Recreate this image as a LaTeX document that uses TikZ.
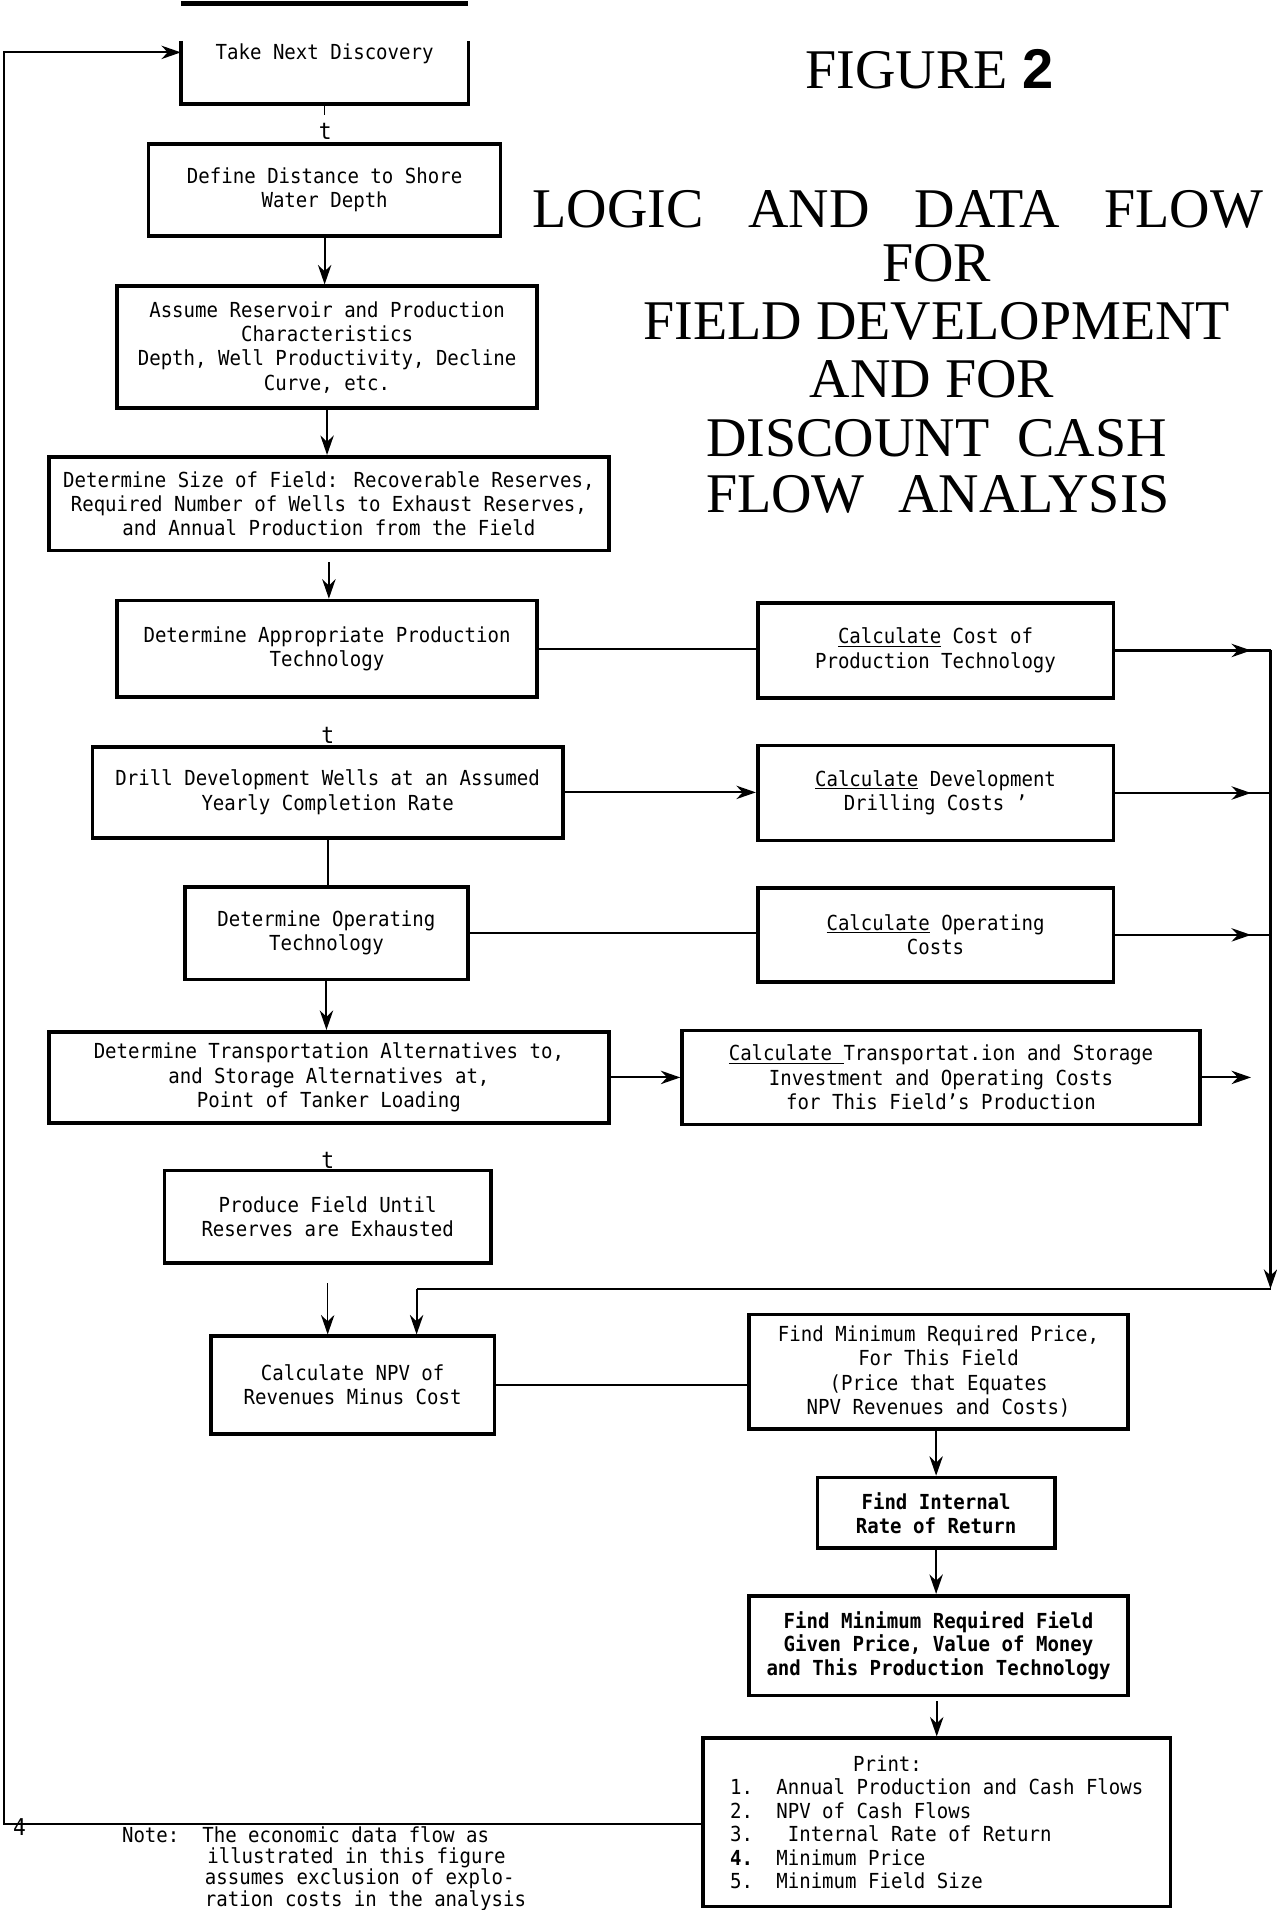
\documentclass[tikz,border=0pt]{standalone}
\usepackage{fontspec}
\newfontfamily\boxfont[FakeStretch=0.92]{DejaVu Sans Mono}
\newfontfamily\tnr{Liberation Serif}
\newfontfamily\hel{Liberation Sans}
\usetikzlibrary{arrows.meta}
\tikzset{
  box/.style={draw, line width=3pt, inner sep=0pt, align=center,
    font=\boxfont\fontsize{17}{20}\selectfont},
  conn/.style={line width=1.7pt},
  arr/.style={-{Stealth[length=16pt,width=11pt]}},
  txt/.style={inner sep=0pt, font=\boxfont\fontsize{17}{20}\selectfont},
  ttl/.style={inner sep=0pt, font=\tnr\fontsize{46}{50}\selectfont},
}
\begin{document}
\begin{tikzpicture}[x=1pt,y=-1pt]
\useasboundingbox (0,0) rectangle (1048,1568);
% ---------- title ----------
\node[ttl] (fig) at (763,57) {FIGURE {\hel\bfseries 2}};
\node[ttl] (tl1) at (737,172) {LOGIC\hspace{0.8em}AND\hspace{0.8em}DATA\hspace{0.8em}FLOW};
\node[ttl] (tl2) at (769,216) {FOR};
\node[ttl] (tl3) at (769,264) {FIELD DEVELOPMENT};
\node[ttl] (tl4) at (765,311) {AND FOR};
\node[ttl] (tl5) at (769,360) {DISCOUNT\hspace{0.5em}CASH};
\node[ttl] (tl6) at (770,406) {FLOW\hspace{0.6em}ANALYSIS};
% ---------- left column ----------
\node[box, draw=none, minimum width=233pt, text height=14pt, text depth=35pt, anchor=base] (b1) at (266.5,49) {Take Next Discovery};
\draw[line width=3pt] (b1.north west) -- (b1.south west) -- (b1.south east) -- (b1.north east);
\draw[line width=4pt] (b1.west |- 0,3) -- (b1.east |- 0,3);
\node[box, minimum width=289pt, minimum height=76pt] (b2) at (266.5,156) {Define Distance to Shore\\Water Depth};
\node[box, minimum width=345pt, minimum height=100pt] (b3) at (268.5,285) {Assume Reservoir and Production\\Characteristics\\Depth, Well Productivity, Decline\\Curve, etc.};
\node[box, minimum width=460pt, minimum height=77pt] (b4) at (270,413.5) {Determine Size of Field: Recoverable Reserves,\\Required Number of Wells to Exhaust Reserves,\\and Annual Production from the Field};
\node[box, minimum width=345pt, minimum height=79pt] (b5) at (268.5,532.5) {Determine Appropriate Production\\Technology};
\node[box, minimum width=386pt, minimum height=75pt] (b6) at (269,650.5) {Drill Development Wells at an Assumed\\Yearly Completion Rate};
\node[box, minimum width=232pt, minimum height=76pt] (b7) at (268,766) {Determine Operating\\Technology};
\node[box, minimum width=460pt, minimum height=75pt] (b8) at (270,884.5) {Determine Transportation Alternatives to,\\and Storage Alternatives at,\\Point of Tanker Loading};
\node[box, minimum width=268pt, minimum height=76pt] (b9) at (269,999) {Produce Field Until\\Reserves are Exhausted};
\node[box, minimum width=233pt, minimum height=80pt] (b10) at (289.5,1137) {Calculate NPV of\\Revenues Minus Cost};
% ---------- right column ----------
\node[box, minimum width=292pt, minimum height=78pt] (ccost) at (768,534) {\underline{Calculate} Cost of\\Production Technology};
\node[box, minimum width=292pt, minimum height=78pt] (cdev) at (768,651) {\underline{Calculate} Development\\Drilling Costs ’};
\node[box, minimum width=292pt, minimum height=77pt] (cop) at (768,767.5) {\underline{Calculate} Operating\\Costs};
\node[box, minimum width=425pt, minimum height=77pt] (ctr) at (772.5,884.5) {\underline{Calculate\ }Transportat.ion and Storage\\Investment and Operating Costs\\for This Field’s Production};
\node[box, minimum width=311pt, minimum height=94pt] (fmp) at (770.5,1126) {Find Minimum Required Price,\\For This Field\\(Price that Equates\\NPV Revenues and Costs)};
\node[box, minimum width=195pt, minimum height=58pt, font=\boxfont\bfseries\fontsize{17}{20}\selectfont] (irr) at (768.5,1242) {Find Internal\\Rate of Return};
\node[box, minimum width=311pt, minimum height=82pt, font=\boxfont\bfseries\fontsize{17}{19}\selectfont] (fmf) at (770.5,1351) {Find Minimum Required Field\\Given Price, Value of Money\\and This Production Technology};
\node[box, minimum width=384pt, minimum height=138pt, align=left, font=\boxfont\fontsize{17}{19.2}\selectfont] (pr) at (769,1496) {\hspace*{101pt}Print:\\
\makebox[38pt][l]{1.}Annual Production and Cash Flows\\
\makebox[38pt][l]{2.}NPV of Cash Flows\\
\makebox[38pt][l]{3.} Internal Rate of Return\\
\makebox[38pt][l]{\bfseries 4.}Minimum Price\\
\makebox[38pt][l]{5.}Minimum Field Size};
% ---------- stray marks and note ----------
\node[txt, font=\boxfont\fontsize{19}{20}\selectfont] (t1) at (267,108) {t};
\node[txt, font=\boxfont\fontsize{19}{20}\selectfont] (t2) at (269,604) {t};
\node[txt, font=\boxfont\fontsize{19}{20}\selectfont] (t3) at (269,953) {t};
\node[txt, font=\boxfont\fontsize{19}{20}\selectfont] (four) at (16,1500) {4};
\node[txt, anchor=north west, align=left, font=\boxfont\fontsize{17}{17.5}\selectfont] (note) at (100,1499)
 {Note:\ \ The economic data flow as\\
  \hspace*{70pt}illustrated in this figure\\
  \hspace*{68pt}assumes exclusion of explo-\\
  \hspace*{68pt}ration costs in the analysis};
% ---------- coordinates ----------
\coordinate (busx) at (1043,534);
\coordinate (busbot) at (1043,1058);
\coordinate (b10in) at (342,1058);
\coordinate (lc1) at (3,1497);
\coordinate (lc2) at (3,43);
% ---------- vertical chain ----------
\draw[line width=1pt, shorten >=22pt] (b1.south) -- (b1.south |- b2.north);
\draw[conn,arr] (b2.south) -- (b2.south |- b3.north);
\draw[conn,arr] (b3.south) -- (b3.south |- b4.north);
\draw[conn,arr, shorten <=8pt] (b4.south) -- (b4.south |- b5.north);
\draw[conn] (b6.south) -- (b6.south |- b7.north);
\draw[conn,arr] (b7.south) -- (b7.south |- b8.north);
\draw[line width=1.1pt,arr, shorten <=15pt] (b9.south) -- (b9.south |- b10.north);
% ---------- horizontal links ----------
\draw[conn] (b5.east) -- (b5.east -| ccost.west);
\draw[conn,arr] (b6.east) -- (b6.east -| cdev.west);
\draw[conn] (b7.east) -- (b7.east -| cop.west);
\draw[conn,arr] (b8.east) -- (b8.east -| ctr.west);
\draw[conn] (b10.east) -- (b10.east -| fmp.west);
% ---------- into the bus ----------
\foreach \n in {ccost,cdev,cop}{
  \draw[conn] (\n.east) -- (\n.east -| busx);
  \draw[conn,arr] (\n.east) -- ([xshift=-16pt]\n.east -| busx);
}
\draw[conn,arr] (ctr.east) -- ([xshift=-16pt]ctr.east -| busx);
\draw[conn,arr] (busx) -- (busbot);
\draw[conn] (busbot) -- (b10in);
\draw[conn,arr] (b10in) -- (b10in |- b10.north);
% ---------- right chain ----------
\draw[conn,arr] (fmp.south -| irr.north) -- (irr.north);
\draw[conn,arr] (irr.south) -- (irr.south |- fmf.north);
\draw[conn,arr, shorten <=3pt] (fmf.south -| pr.north) -- (pr.north);
% ---------- feedback loop ----------
\draw[conn,arr] (pr.west |- lc1) -- (lc1) -- (lc2) -- (b1.west |- lc2);
\end{tikzpicture}
\end{document}
